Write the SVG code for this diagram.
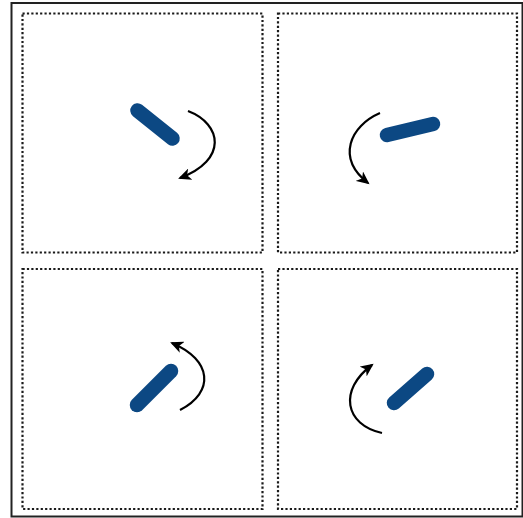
<svg xmlns="http://www.w3.org/2000/svg" width="523" height="518" viewBox="0 0 523 518">
  <style>
    .frame { fill: none; stroke: #222; stroke-width: 2; }
    .panel { fill: none; stroke: #1a1a1a; stroke-width: 2.2; stroke-dasharray: 2.2 2.2; }
    .bar { stroke: #0c4883; stroke-width: 14.5; stroke-linecap: round; fill: none; }
    .turn { fill: none; stroke: #000; stroke-width: 2.2; marker-end: url(#head); }
  </style>
  <defs>
    <marker id="head" markerUnits="userSpaceOnUse" markerWidth="14" markerHeight="12" refX="11" refY="6" orient="auto">
      <path d="M0,0 L13,6 L0,12 L3.5,6 z" fill="#000"/>
    </marker>
  </defs>
  <rect width="523" height="518" fill="#fff"/>
  <rect class="frame" x="11.5" y="3" width="511" height="513.5"/>

  <g id="panel-top-left">
    <rect class="panel" x="22.5" y="13.5" width="240" height="239"/>
    <line class="bar" x1="137.5" y1="110.5" x2="172.5" y2="138.5"/>
  </g>
  <g id="panel-top-right">
    <rect class="panel" x="278" y="13.5" width="239" height="239"/>
    <line class="bar" x1="387" y1="135" x2="433" y2="124"/>
  </g>
  <g id="panel-bottom-left">
    <rect class="panel" x="22.5" y="269" width="240" height="240"/>
    <line class="bar" x1="137" y1="405" x2="171" y2="371"/>
  </g>
  <g id="panel-bottom-right">
    <rect class="panel" x="278" y="269" width="239" height="240"/>
    <line class="bar" x1="394" y1="403" x2="427" y2="374"/>
  </g>

  <g id="connectors">
    <path class="turn" d="M188,111 C222,124 228,160 180,178"/>
    <path class="turn" d="M380,113 C350,126 336,158 368,183"/>
    <path class="turn" d="M180,410 C215,392 212,360 172,343"/>
    <path class="turn" d="M382,433 C345,425 338,390 372,365"/>
  </g>
</svg>
